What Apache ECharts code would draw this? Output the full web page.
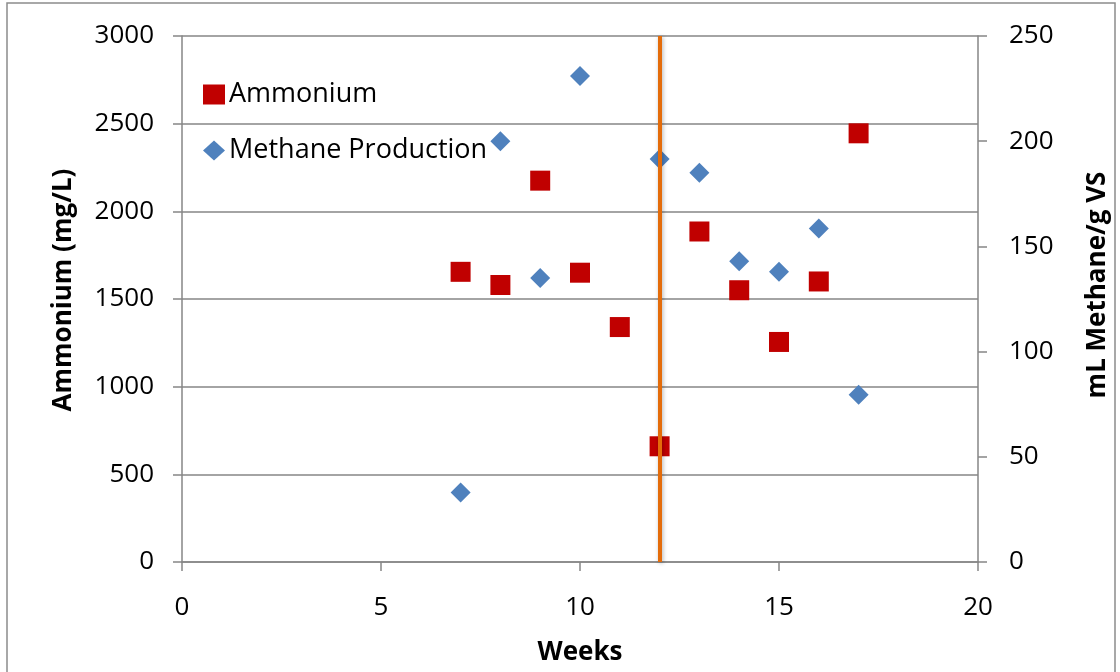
<!DOCTYPE html>
<html>
<head>
<meta charset="utf-8">
<script src="https://cdn.jsdelivr.net/npm/echarts@6/dist/echarts.min.js"></script>
<style>html,body{margin:0;padding:0;background:#fff}#c{width:1120px;height:672px}</style>
</head>
<body>
<div id="c"></div>
<script>
const weeksAmmonium = [7, 8, 9, 10, 11, 12, 13, 14, 15, 16, 17];
const ammonium = [1655, 1580, 2175, 1650, 1340, 660, 1885, 1550, 1255, 1600, 2445];
const weeksMethane = [7, 8, 9, 10, 12, 13, 14, 15, 16, 17];
const methane = [33, 200, 135, 231, 191.5, 185, 143, 138, 158.5, 79.5];
const markerWeek = 12;
const font = '"Open Sans", "Liberation Sans", sans-serif';

const chart = echarts.init(document.getElementById('c'), null, {renderer: 'canvas'});
const axisCommon = {
  axisLine: {show: true, lineStyle: {color: '#868686', width: 1.5}},
  axisTick: {show: true, inside: false, length: 9, lineStyle: {color: '#868686', width: 1.5}},
  axisLabel: {color: '#000', fontSize: 26, fontFamily: font, margin: 28, formatter: v => String(v)},
  nameTextStyle: {color: '#000', fontSize: 26, fontWeight: 'bold', fontFamily: font}
};
chart.setOption({
  animation: false,
  backgroundColor: '#fff',
  graphic: [{type: 'rect', shape: {x: 7, y: 3, width: 1108, height: 680}, style: {fill: 'none', stroke: '#8c8c8c', lineWidth: 1.5}}],
  grid: {left: 182, right: 142, top: 36, bottom: 110, containLabel: false, outerBoundsMode: 'none'},
  legend: {
    orient: 'vertical', left: 198, top: 76, itemGap: 29, itemWidth: 22, itemHeight: 20,
    textStyle: {fontSize: 27, fontFamily: font, color: '#000', padding: [0, 0, 0, -1]},
    data: [{name: 'Ammonium', icon: 'rect'}, {name: 'Methane Production', icon: 'diamond'}]
  },
  xAxis: Object.assign({}, axisCommon, {
    type: 'value', min: 0, max: 20, interval: 5,
    name: 'Weeks', nameLocation: 'middle', nameGap: 78,
    axisLabel: Object.assign({}, axisCommon.axisLabel, {margin: 33}),
    splitLine: {show: false}
  }),
  yAxis: [
    Object.assign({}, axisCommon, {
      type: 'value', min: 0, max: 3000, interval: 500,
      name: 'Ammonium (mg/L)', nameLocation: 'middle', nameGap: 105,
      nameTextStyle: Object.assign({}, axisCommon.nameTextStyle, {padding: [0, 0, 0, 18]}),
      splitLine: {show: true, lineStyle: {color: '#868686', width: 1.5}}
    }),
    Object.assign({}, axisCommon, {
      type: 'value', min: 0, max: 250, interval: 50, position: 'right',
      name: 'mL Methane/g VS', nameLocation: 'middle', nameGap: 107, nameRotate: 90,
      nameTextStyle: Object.assign({}, axisCommon.nameTextStyle, {padding: [0, 0, 0, 28]}),
      axisLabel: Object.assign({}, axisCommon.axisLabel, {margin: 31}),
      splitLine: {show: false}
    })
  ],
  series: [
    {
      name: 'Ammonium', type: 'scatter', yAxisIndex: 0, symbol: 'rect', symbolSize: 20,
      itemStyle: {color: '#C00000', opacity: 1},
      data: weeksAmmonium.map((w, i) => [w, ammonium[i]]), z: 3,
      markLine: {
        silent: true, symbol: 'none', label: {show: false},
        lineStyle: {color: '#E46C0A', width: 4, type: 'solid', shadowColor: 'rgba(0,0,0,0.3)', shadowBlur: 4, shadowOffsetX: 1, shadowOffsetY: 1},
        data: [{xAxis: markerWeek}], z: 5
      }
    },
    {
      name: 'Methane Production', type: 'scatter', yAxisIndex: 1, symbol: 'diamond', symbolSize: 20,
      itemStyle: {color: '#4F81BD', opacity: 1},
      data: weeksMethane.map((w, i) => [w, methane[i]]), z: 4
    }
  ]
});
</script>
</body>
</html>
